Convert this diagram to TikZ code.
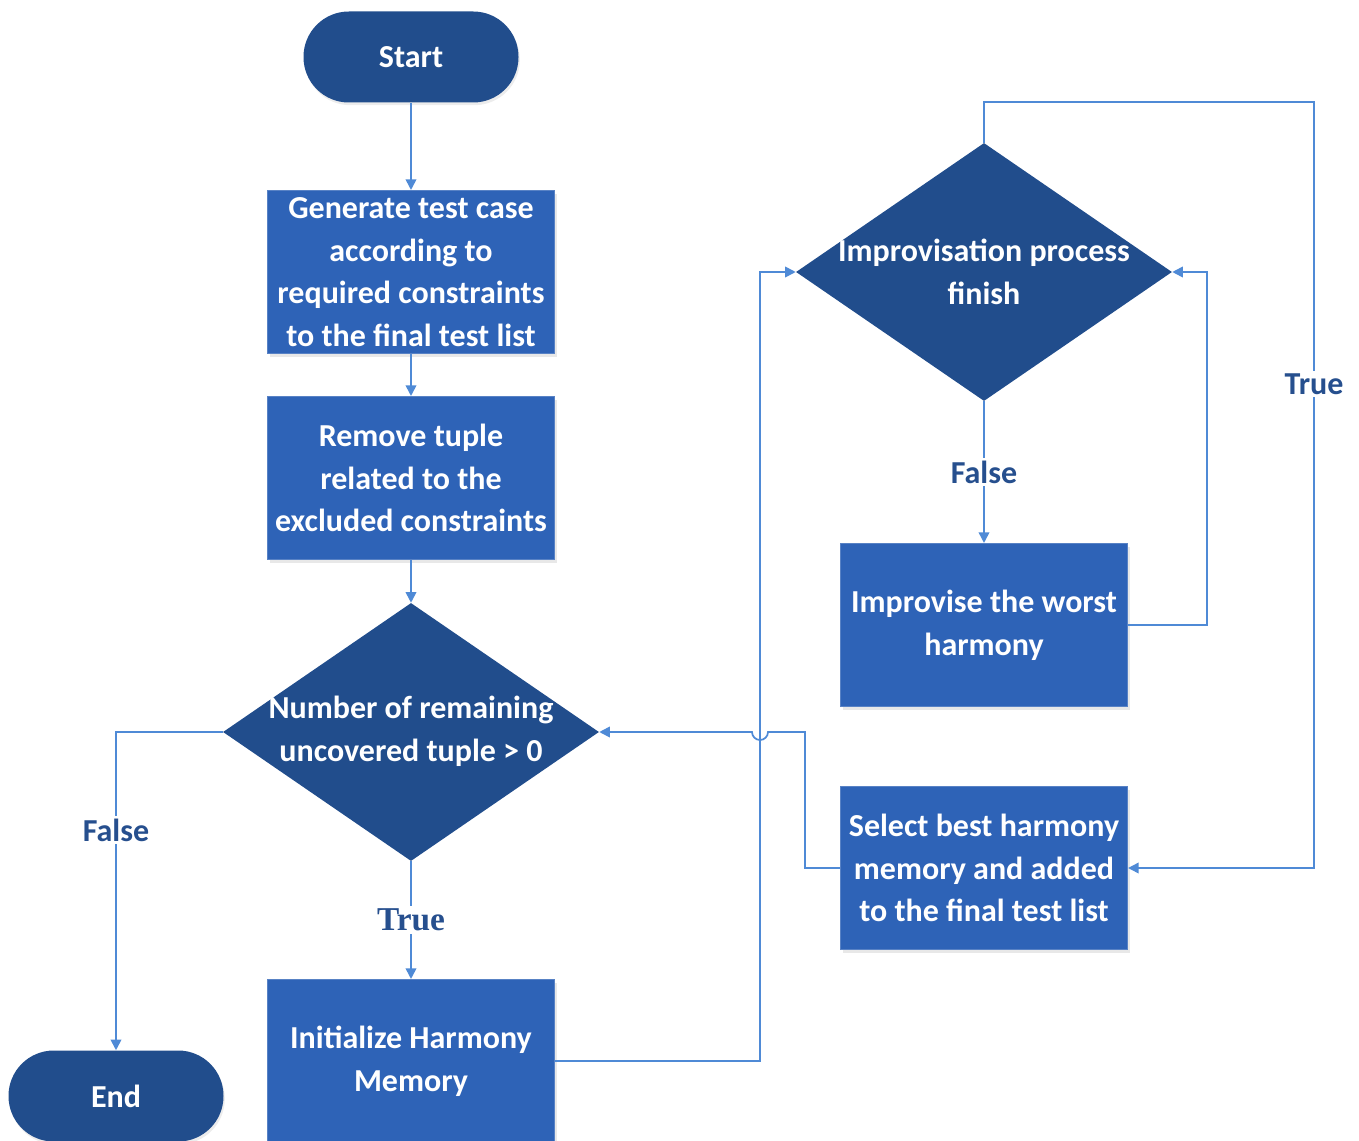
\documentclass[tikz,border=0pt]{standalone}
\usepackage{fontspec}
\setmainfont{Carlito}
\newfontfamily\serifbold{Liberation Serif}
\usetikzlibrary{shapes.geometric,arrows.meta,shadows}
\definecolor{darkb}{HTML}{214D8C}
\definecolor{boxb}{HTML}{2E63B7}
\definecolor{lineb}{HTML}{4F8AD6}
\definecolor{labb}{HTML}{264F8E}
\tikzset{
  px/.style={x=0.75pt,y=-0.75pt},
  txt/.style={text=white,font=\fontsize{24}{32}\selectfont\bfseries,align=center},
  procbox/.style={rectangle,fill=boxb,draw=boxb!80!white,line width=0.8pt,minimum width=215.25pt,minimum height=122.25pt,inner sep=0pt,
    drop shadow={opacity=0.18,shadow xshift=1.5pt,shadow yshift=-2.5pt}},
  term/.style={rectangle,rounded corners=34pt,fill=darkb,minimum width=161.25pt,minimum height=68.25pt,inner sep=0pt,
    drop shadow={opacity=0.15,shadow xshift=1pt,shadow yshift=-2pt}},
  dec/.style={diamond,fill=darkb,minimum width=282pt,minimum height=193.5pt,inner sep=0pt},
  conn/.style={draw=lineb,line width=1.3pt},
  arr/.style={conn,-{Triangle[length=8pt,width=8pt]}},
  lab/.style={text=labb,font=\fontsize{24}{26}\selectfont\bfseries,fill=white,inner sep=2pt},
  labser/.style={text=labb,font=\fontsize{25}{26}\selectfont\serifbold\bfseries,fill=white,inner sep=2pt},
}
\begin{document}
\begin{tikzpicture}[px]
\useasboundingbox (0,0) rectangle (1359,1141);
\clip (0,0) rectangle (1359,1141);
% nodes
\node[term] (start) at (411,57) {};
\node[txt] at (start) {Start};
\node[procbox] (gen) at (411,272) {};
\node[txt] at (gen) {Generate test case\\according to\\required constraints\\to the final test list};
\node[procbox] (rem) at (411,478) {};
\node[txt] at (rem) {Remove tuple\\related to the\\excluded constraints};
\node[dec] (num) at (411,732) {};
\node[txt] at (411,731) {Number of remaining\\uncovered tuple > 0};
\node[procbox] (init) at (411,1061) {};
\node[txt] at (411,1061) {Initialize Harmony\\Memory};
\node[term] (end) at (116,1096) {};
\node[txt] at (end) {End};
\node[dec] (imp) at (984,272) {};
\node[txt] at (984,272) {Improvisation process\\finish};
\node[procbox] (worst) at (984,625) {};
\node[txt] at (worst) {Improvise the worst\\harmony};
\node[procbox] (sel) at (984,868) {};
\node[txt] at (sel) {Select best harmony\\memory and added\\to the final test list};
\coordinate (hopR) at (768,732);
% connectors
\draw[arr] (start) -- (gen);
\draw[arr] (gen) -- (rem);
\draw[arr] (rem) -- (num);
\draw[arr] (num.south) -- node[labser,pos=0.5]{True} (init.north);
\draw[arr] (num.west) -| node[lab,pos=0.654]{False} (end.north);
\draw[arr] (init.east) -- (760,1061) |- (imp.west);
\draw[arr] (imp.south) -- node[lab,pos=0.5]{False} (worst.north);
\draw[arr] (worst.east) -- (1207,625) |- (imp.east);
\draw[arr] (imp.north) |- (1314,102) |- node[lab,pos=0.184]{True} (sel.east);
\draw[arr] (sel.west) -- (805,868) |- (hopR) arc[start angle=0,end angle=180,radius=8] -- (num.east);
\end{tikzpicture}
\end{document}
